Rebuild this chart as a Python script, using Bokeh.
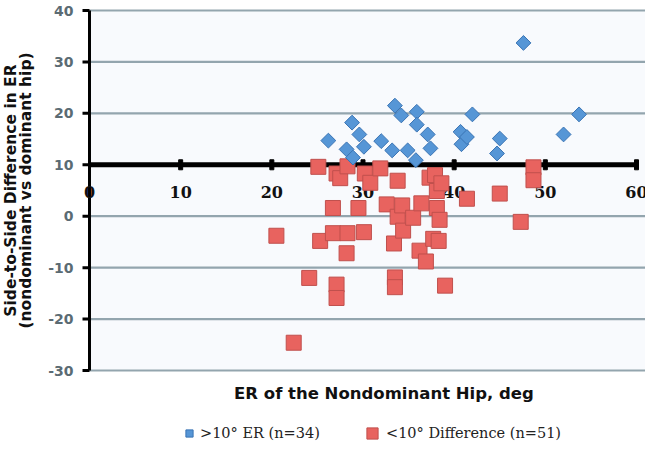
import numpy as np
from bokeh.plotting import figure
from bokeh.models import Range1d, Legend, LegendItem
from bokeh.core.properties import value
from bokeh.embed import file_html
from bokeh.resources import INLINE

# >10° ER group (blue diamonds)
blue_x = [26.2, 28.8, 29.6, 30.1, 28.2, 28.9, 32.0, 33.2, 33.5, 34.2, 35.9, 35.9, 34.9,
          35.8, 37.1, 37.4, 40.7, 40.8, 41.4, 42.0, 45.0, 44.7, 47.6, 52.0, 53.7]
blue_y = [14.7, 18.2, 15.9, 13.5, 13.0, 11.4, 14.6, 12.8, 21.5, 19.6, 20.3, 17.8, 12.8,
          10.9, 15.9, 13.2, 16.4, 14.0, 15.4, 19.8, 15.1, 12.2, 33.7, 15.9, 19.8]

# <10° difference group (red squares)
red_x = [20.5, 22.4, 24.1, 25.1, 25.3, 26.7, 26.7, 27.1, 27.5, 27.1, 27.1, 28.3, 28.3,
         28.2, 30.2, 30.8, 29.5, 30.1, 31.9, 32.6, 33.8, 33.8, 34.3, 33.4, 33.5, 33.5,
         34.4, 35.5, 36.4, 36.2, 36.9, 37.3, 37.9, 38.1, 38.1, 38.4, 37.7, 38.3, 39.0,
         41.4, 45.0, 47.3, 48.7, 48.7, 38.6]
red_y = [-3.8, -24.6, -12.0, 9.6, -4.8, 1.6, -3.3, 8.3, 7.4, -13.3, -15.9, 9.7, -3.3,
         -7.2, 8.3, 6.5, 1.6, -3.1, 9.3, 2.3, 6.9, -0.1, 2.1, -5.3, -11.9, -13.8,
         -2.8, -0.3, 2.5, -6.7, -8.8, 7.5, 8.0, 4.9, 1.6, -0.7, -4.4, -4.8, -13.5,
         3.4, 4.4, -1.1, 9.5, 7.0, 6.4]

x_ticks = [0, 10, 20, 30, 40, 50, 60]
x_tick_labels = ["0", "10", "20", "30", "40", "50", "60"]
y_ticks = [-30, -20, -10, 0, 10, 20, 30, 40]
y_tick_labels = ["-30", "-20", "-10", "0", "10", "20", "30", "40"]
x_cross = 10  # horizontal axis crosses the vertical one at y = 10

x_title = "ER of the Nondominant Hip, deg"
y_title = ["Side-to-Side Difference in ER", "(nondominant vs dominant hip)"]
legend_labels = [">10° ER (n=34)", "<10° Difference (n=51)"]

# ---- layout: the whole canvas is the plotting frame; axes are drawn in data space ----
FIG_W, FIG_H = 645, 443
AX_LEFT, AX_RIGHT, AX_TOP, AX_BOTTOM = 89, 636, 10, 370   # pixel box of x 0..60, y -30..40
px_x = (AX_RIGHT - AX_LEFT) / (max(x_ticks) - min(x_ticks))
px_y = (AX_BOTTOM - AX_TOP) / (max(y_ticks) - min(y_ticks))
x0 = min(x_ticks) - AX_LEFT / px_x
y1 = max(y_ticks) + AX_TOP / px_y

p = figure(width=FIG_W, height=FIG_H,
           x_range=Range1d(x0, x0 + FIG_W / px_x),
           y_range=Range1d(y1 - FIG_H / px_y, y1),
           output_backend="svg", toolbar_location=None, min_border=0,
           background_fill_color="white", border_fill_color="white")
p.outline_line_color = None
p.xaxis.visible = False
p.yaxis.visible = False
p.grid.visible = False

xmin, xmax = min(x_ticks), x0 + FIG_W / px_x
ymin, ymax = min(y_ticks), max(y_ticks)

# plot-area tint
p.quad(left=[xmin], right=[xmax], bottom=[ymin], top=[ymax],
       fill_color="#f8fafd", line_color=None)

# horizontal gridlines
grid_y = [t for t in y_ticks if t != x_cross]
p.segment(x0=[xmin] * len(grid_y), x1=[xmax] * len(grid_y), y0=grid_y, y1=grid_y,
          line_color="#93a5ae", line_width=2.2)

# vertical axis at x = 0
p.segment(x0=[xmin], x1=[xmin], y0=[ymin], y1=[ymax], line_color="black", line_width=3)
tick_len = 7 / px_x
p.segment(x0=[xmin - tick_len] * len(y_ticks), x1=[xmin] * len(y_ticks),
          y0=y_ticks, y1=y_ticks, line_color="black", line_width=3)
p.text(x=[xmin] * len(y_ticks), y=y_ticks, text=y_tick_labels, x_offset=-16,
       text_align="right", text_baseline="middle",
       text_font=value("DejaVu Sans"), text_font_style="bold",
       text_font_size="14px", text_color="#5b6b73")

# horizontal axis at y = 10
p.segment(x0=[min(x_ticks)], y0=[x_cross], x1=[max(x_ticks)], y1=[x_cross],
          line_color="black", line_width=5)
p.rect(x=x_ticks[1:], y=[x_cross] * (len(x_ticks) - 1), width=4, height=10,
       width_units="screen", height_units="screen", color="black")
p.text(x=x_ticks, y=[x_cross] * len(x_ticks), text=x_tick_labels,
       text_align="center", text_baseline="middle", y_offset=27,
       text_font=value("DejaVu Serif"), text_font_style="bold",
       text_font_size="16px", text_color="#111111")

# data
red = p.scatter(red_x, red_y, marker="square", size=15, fill_color="#e8635f",
                line_color="#c0504d", line_width=1)
blue = p.scatter(blue_x, blue_y, marker="square", angle=np.pi / 4, size=10.5,
                 fill_color="#5696d6", line_color="#3a74b4", line_width=1)

# axis titles
p.text(x=[(min(x_ticks) + max(x_ticks)) / 2 + 2.3], y=[ymin], text=[x_title], y_offset=23,
       text_align="center", text_baseline="middle",
       text_font=value("DejaVu Sans"), text_font_style="bold",
       text_font_size="16.5px", text_color="#111111")
p.text(x=[xmin, xmin], y=[(ymin + ymax) / 2] * 2, text=y_title, x_offset=[-79, -64],
       angle=np.pi / 2, text_align="center", text_baseline="middle",
       text_font=value("DejaVu Sans"), text_font_style="bold",
       text_font_size="15.5px", text_color="#111111")

# legend: one box per entry so each key keeps its own size
common = dict(orientation="horizontal", padding=0, margin=0, spacing=0,
              label_text_font="DejaVu Serif", label_text_font_size="14.5px",
              label_text_color="#222222", border_line_color=None,
              background_fill_alpha=0)
leg_blue = Legend(items=[LegendItem(label=legend_labels[0], renderers=[blue])],
                  location=(180, 1), glyph_width=18, glyph_height=18,
                  label_standoff=2, **common)
leg_red = Legend(items=[LegendItem(label=legend_labels[1], renderers=[red])],
                 location=(358, -4), glyph_width=28, glyph_height=28,
                 label_standoff=0, **common)
p.add_layout(leg_blue)
p.add_layout(leg_red)

open("out.html", "w").write(file_html(p, INLINE))
